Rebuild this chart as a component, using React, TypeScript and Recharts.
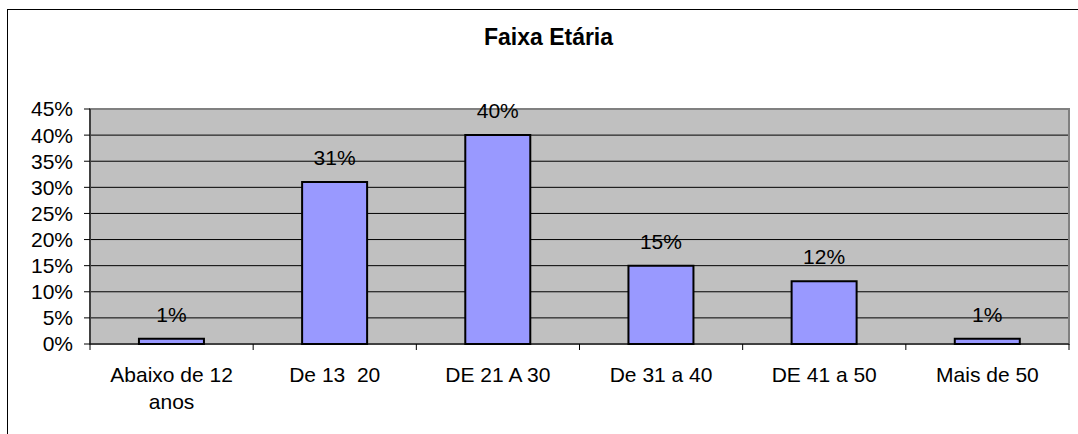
import React from 'react';
import { BarChart, Bar, XAxis, YAxis, CartesianGrid, LabelList, ReferenceArea } from 'recharts';

const categories = ['Abaixo de 12 anos', 'De 13\u00a0 20', 'DE 21 A 30', 'De 31 a 40', 'DE 41 a 50', 'Mais de 50'];
const percentages = [1, 31, 40, 15, 12, 1];
const yTicks = [0, 5, 10, 15, 20, 25, 30, 35, 40, 45];

const data = categories.map((name, i) => ({ name, value: percentages[i] }));

const FONT = '"Liberation Sans", Arial, sans-serif';

// break a label into lines of at most ~12 characters, like the original wrap
const wrapLabel = (label: string, maxChars = 12) => {
  const lines: string[] = [];
  let current = '';
  label.split(' ').forEach((word) => {
    const next = current ? `${current} ${word}` : word;
    if (next.length > maxChars && current) {
      lines.push(current);
      current = word;
    } else {
      current = next;
    }
  });
  if (current) lines.push(current);
  return lines;
};

const CategoryTick: React.FC<any> = ({ x, y, payload, index, width, visibleTicksCount }) => {
  const band = width / visibleTicksCount;
  const left = x - band / 2;
  const right = x + band / 2;
  const lines = wrapLabel(String(payload.value));
  return (
    <g>
      <line x1={left} y1={y} x2={left} y2={y + 6} stroke="#000" />
      {index === visibleTicksCount - 1 && <line x1={right} y1={y} x2={right} y2={y + 6} stroke="#000" />}
      <text x={x} y={y + 38} textAnchor="middle" fontSize={21} fill="#000" fontFamily={FONT}>
        {lines.map((line, i) => (
          <tspan key={i} x={x} dy={i === 0 ? 0 : 27}>
            {line}
          </tspan>
        ))}
      </text>
    </g>
  );
};

const App: React.FC = () => {
  return (
    <div
      style={{
        position: 'absolute',
        left: 0,
        top: 0,
        width: 1078,
        height: 434,
        overflow: 'hidden',
        background: '#fff',
        fontFamily: FONT,
      }}
    >
      <div
        style={{
          position: 'absolute',
          left: 7,
          top: 9,
          width: 1200,
          height: 600,
          borderTop: '1px solid #000',
          borderLeft: '1px solid #000',
        }}
      />
      <div
        style={{
          position: 'absolute',
          left: 0,
          top: 26,
          width: 1097,
          textAlign: 'center',
          fontSize: 23,
          lineHeight: '23px',
          fontWeight: 'bold',
          color: '#000',
        }}
      >
        Faixa Etária
      </div>
      <div style={{ position: 'absolute', left: 0, top: 0 }}>
        <BarChart
          width={1078}
          height={434}
          data={data}
          margin={{ top: 109, right: 9, bottom: 0, left: 0 }}
          barCategoryGap="30%"
        >
          <CartesianGrid vertical={false} stroke="#000" fill="#C0C0C0" fillOpacity={1} />
          <ReferenceArea y1={0} y2={45} fill="none" stroke="#808080" strokeWidth={2} ifOverflow="visible" />
          <XAxis
            dataKey="name"
            height={90}
            interval={0}
            tickLine={false}
            tickSize={0}
            tickMargin={0}
            axisLine={{ stroke: '#000' }}
            tick={<CategoryTick />}
          />
          <YAxis
            width={90}
            domain={[0, 45]}
            ticks={yTicks}
            interval={0}
            tickFormatter={(v: number) => `${v}%`}
            tickSize={6}
            tickMargin={11}
            axisLine={{ stroke: '#000' }}
            tickLine={{ stroke: '#000' }}
            tick={{ fill: '#000', fontSize: 21, fontFamily: FONT }}
          />
          <Bar dataKey="value" fill="#9999FF" stroke="#000" strokeWidth={2} isAnimationActive={false}>
            <LabelList
              dataKey="value"
              position="top"
              offset={17}
              formatter={(v: any) => `${v}%`}
              fill="#000"
              fontSize={21}
              fontFamily={FONT}
            />
          </Bar>
        </BarChart>
      </div>
    </div>
  );
};

export default App;
